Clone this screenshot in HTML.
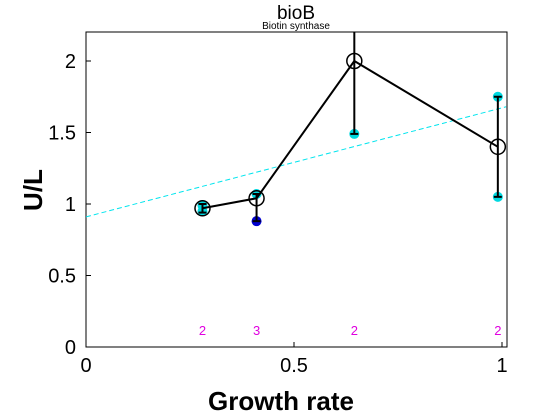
<!DOCTYPE html>
<html><head><meta charset="utf-8"><style>
body{margin:0;background:#fff;}
svg{display:block;font-family:"Liberation Sans",sans-serif;}
</style></head><body>
<svg id="c" width="560" height="420">
<rect x="86" y="32" width="421" height="315" fill="#fff" stroke="#000"/>
<g id="g"></g>
<text x="296" y="19" font-size="19" text-anchor="middle">bioB</text>
<text x="296" y="29" font-size="10" text-anchor="middle">Biotin synthase</text>
<text x="281" y="410" font-size="26" font-weight="bold" text-anchor="middle">Growth rate</text>
<text transform="translate(42,190) rotate(-90)" font-size="26" font-weight="bold" text-anchor="middle">U/L</text>
</svg>
<script>
const xTicks=[0,0.5,1];
const xTickLabels=["0","0.5","1"];
const yTicks=[0,0.5,1,1.5,2];
const yTickLabels=["0","0.5","1","1.5","2"];
const growth=[0.28,0.41,0.645,0.99];
const meanVals=[0.97,1.04,2.0,1.4];
const errLow=[0.94,0.88,1.49,1.05];
const errHigh=[1.0,1.07,2.3,1.75];
const cyanX=[0.28,0.28,0.41,0.645,0.99,0.99];
const cyanY=[0.95,0.99,1.07,1.49,1.75,1.05];
const blueX=[0.41];
const blueY=[0.88];
const counts=["2","3","2","2"];
const fitX=[0,1.01];
const fitY=[0.91,1.68];
const X=v=>86+v*416, Y=v=>347-v*143;
const g=document.getElementById('g');
const NS="http://www.w3.org/2000/svg";
function mk(t,a,p){const e=document.createElementNS(NS,t);for(const k in a)e.setAttribute(k,a[k]);(p||g).appendChild(e);return e;}
xTicks.forEach((v,i)=>{
 let t=mk('line',{x1:X(v),x2:X(v),y1:347,y2:342,stroke:'#000'});
 
 
 let l=mk('text',{x:X(v),y:372,'font-size':20,'text-anchor':'middle'});l.textContent=xTickLabels[i];
 
 
});
yTicks.forEach((v,i)=>{
 let t=mk('line',{x1:86,x2:91,y1:Y(v),y2:Y(v),stroke:'#000'});
 
 
 let l=mk('text',{x:76,y:Y(v)+7,'font-size':20,'text-anchor':'end'});l.textContent=yTickLabels[i];
 
 
});
const clip=mk('clipPath',{id:'cp'});mk('rect',{x:86,y:32,width:421,height:315},clip);
const pg=mk('g',{'clip-path':'url(#cp)'});
let fl=mk('line',{x1:X(fitX[0]),y1:Y(fitY[0]),x2:X(fitX[1]),y2:Y(fitY[1]),stroke:'#00e5ee','stroke-dasharray':'5,3'},pg);


cyanX.forEach((v,i)=>{let c=mk('circle',{cx:X(v),cy:Y(cyanY[i]),r:5,fill:'#00d8e0'},pg);
 
 });
blueX.forEach((v,i)=>{let c=mk('circle',{cx:X(v),cy:Y(blueY[i]),r:5,fill:'#0000d0'},pg);
 
 });
growth.forEach((v,i)=>{
 let e=mk('line',{x1:X(v),x2:X(v),y1:Y(errLow[i]),y2:Y(errHigh[i]),stroke:'#000','stroke-width':2},pg);
 
 
 [errLow[i],errHigh[i]].forEach(w=>{let c=mk('line',{x1:X(v)-4,x2:X(v)+4,y1:Y(w),y2:Y(w),stroke:'#000','stroke-width':2},pg);
  
  });
});
let pl=mk('polyline',{points:growth.map((v,i)=>X(v)+','+Y(meanVals[i])).join(' '),fill:'none',stroke:'#000','stroke-width':2},pg);


growth.forEach((v,i)=>{let c=mk('circle',{cx:X(v),cy:Y(meanVals[i]),r:7.5,fill:'none',stroke:'#000','stroke-width':1.5},pg);
 
 
 let t=mk('text',{x:X(v),y:335,'font-size':13,fill:'#e000e0','text-anchor':'middle'});t.textContent=counts[i];
 
 });
</script>
</body></html>
